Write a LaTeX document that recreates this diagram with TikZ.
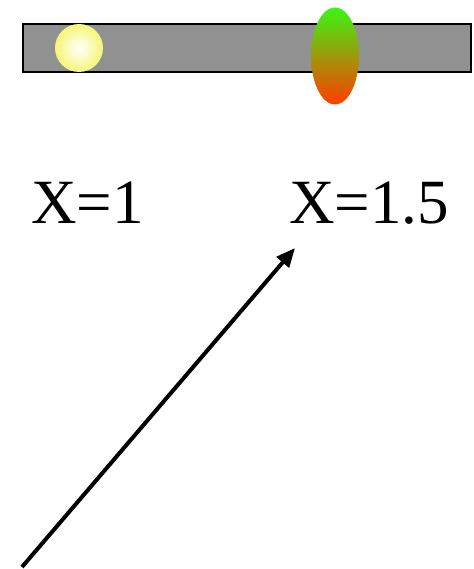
\documentclass[tikz,border=0pt]{standalone}
\usepackage{fontspec}
\setmainfont{Liberation Serif}
\usetikzlibrary{arrows.meta,shapes.geometric}
\definecolor{bargray}{RGB}{145,145,145}
\definecolor{sunyellow}{RGB}{246,246,118}
\definecolor{topgreen}{RGB}{60,245,20}
\definecolor{botred}{RGB}{255,60,0}
\tikzset{
  label text/.style={inner sep=0pt, anchor=base west, font=\fontsize{63}{63}\selectfont},
  pointer/.style={line width=4pt, -{Triangle[length=19pt,width=16pt]}}
}
\begin{document}
\begin{tikzpicture}[x=1pt,y=-1pt]
\useasboundingbox (0,0) rectangle (473,569);
\draw[fill=bargray, line width=2pt] (23,24) rectangle (471,72);
\node[circle, minimum size=48pt, inner sep=0pt, inner color=white, outer color=sunyellow] (sun) at (79,48) {};
\node[ellipse, minimum width=48pt, minimum height=97pt, inner sep=0pt, top color=topgreen, bottom color=botred] (lens) at (335,56) {};
\node[label text] (x1) at (31,223) {X=1};
\node[label text] (x2) at (289,223) {X=1.5};
\coordinate (start) at (22,567);
\coordinate (tip) at (295,248);
\draw[pointer] (start) -- (tip);
\end{tikzpicture}
\end{document}
